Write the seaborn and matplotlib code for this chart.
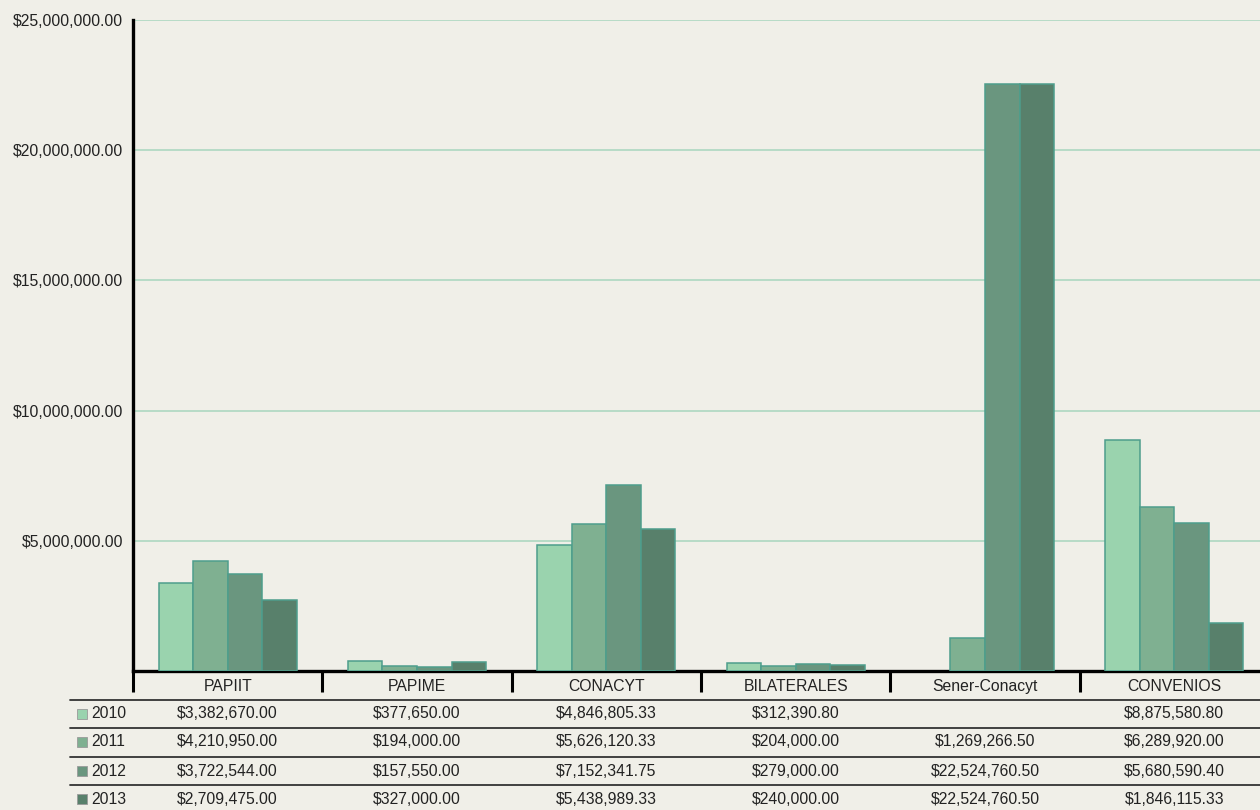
#!/usr/bin/env python3
import matplotlib
matplotlib.use("Agg")
import matplotlib.pyplot as plt
import seaborn as sns
import pandas as pd
import numpy as np
from matplotlib.lines import Line2D
from matplotlib.patches import Rectangle

# Data
programs = ["PAPIIT", "PAPIME", "CONACYT", "BILATERALES", "Sener-Conacyt", "CONVENIOS"]
years = ["2010", "2011", "2012", "2013"]
vals_2010 = [3382670.00, 377650.00, 4846805.33, 312390.80, np.nan, 8875580.80]
vals_2011 = [4210950.00, 194000.00, 5626120.33, 204000.00, 1269266.50, 6289920.00]
vals_2012 = [3722544.00, 157550.00, 7152341.75, 279000.00, 22524760.50, 5680590.40]
vals_2013 = [2709475.00, 327000.00, 5438989.33, 240000.00, 22524760.50, 1846115.33]
year_colors = ["#9AD3AE", "#7FB091", "#6A967F", "#58806B"]

BG = "#F0EFE8"
FS = 11.3


def build_df() -> pd.DataFrame:
    rows = []
    for yr, vals in zip(years, [vals_2010, vals_2011, vals_2012, vals_2013]):
        for prog, v in zip(programs, vals):
            rows.append({"Programa": prog, "Año": yr, "Monto": v})
    return pd.DataFrame(rows)


def plot_data(df: pd.DataFrame) -> None:
    sns.set_style("white")
    plt.rcParams["font.family"] = ["Liberation Sans", "DejaVu Sans"]

    fig = plt.figure(figsize=(12.6, 8.1), dpi=100, facecolor=BG)
    W, H = 1260, 810
    # the plot area runs a little past the right edge of the figure
    ax = fig.add_axes([133 / W, 1 - 671 / H, (1269 - 133) / W, (671 - 20) / H])
    ax.set_facecolor(BG)

    sns.barplot(
        data=df, x="Programa", y="Monto", hue="Año",
        order=programs, hue_order=years, palette=year_colors,
        width=0.73, edgecolor="#4E9E8C", linewidth=1.1,
        saturation=1, legend=False, ax=ax, zorder=3,
    )

    # y axis
    ax.set_ylim(0, 25_000_000)
    ax.set_xlim(-0.5, len(programs) - 0.5)
    yt = [5e6, 10e6, 15e6, 20e6, 25e6]
    ax.set_yticks(yt)
    ax.set_yticklabels([f"${v:,.2f}" for v in yt], fontsize=FS, color="#222222")
    ax.tick_params(axis="y", length=0, pad=7)
    ax.yaxis.grid(True, color="#A8D6BD", linewidth=1.1, zorder=0)
    ax.set_axisbelow(True)

    # x axis: labels at centers, separator ticks at boundaries
    ax.set_xticks(range(len(programs)))
    ax.set_xticklabels(programs, fontsize=FS, color="#222222")
    ax.tick_params(axis="x", which="major", bottom=True, length=0, pad=6)
    ax.set_xticks(np.arange(-0.5, len(programs) - 0.5, 1), minor=True)
    ax.tick_params(axis="x", which="minor", bottom=True, length=15, width=2.2,
                   color="black")
    ax.set_xlabel("")
    ax.set_ylabel("")

    for side in ["top", "right"]:
        ax.spines[side].set_visible(False)
    ax.spines["left"].set_linewidth(2.4)
    ax.spines["bottom"].set_linewidth(2.4)
    ax.spines["left"].set_color("black")
    ax.spines["bottom"].set_color("black")

    # Data table under the chart
    line_ys = [700, 728, 757, 785]
    row_ys = [714, 742, 771, 799]
    for ly in line_ys:
        fig.add_artist(Line2D([70 / W, 1.0], [1 - ly / H, 1 - ly / H],
                              color="#333333", linewidth=1.3))
    centers = [ax.transData.transform((i, 0))[0] / W for i in range(len(programs))]
    all_vals = [vals_2010, vals_2011, vals_2012, vals_2013]
    for yr, col, vals, ry in zip(years, year_colors, all_vals, row_ys):
        fy = 1 - ry / H
        fig.add_artist(Rectangle((77 / W, fy - 5 / H), 10 / W, 10 / H,
                                 facecolor=col, edgecolor="#9A9A9A", linewidth=0.6))
        fig.text(91 / W, fy, yr, fontsize=FS, va="center", ha="left", color="#222222")
        for cx, v in zip(centers, vals):
            if not np.isnan(v):
                fig.text(cx, fy, f"${v:,.2f}", fontsize=FS, va="center",
                         ha="center", color="#222222")

    fig.savefig("out.png", dpi=100, facecolor=BG)


def main():
    df = build_df()
    plot_data(df)


if __name__ == "__main__":
    main()
